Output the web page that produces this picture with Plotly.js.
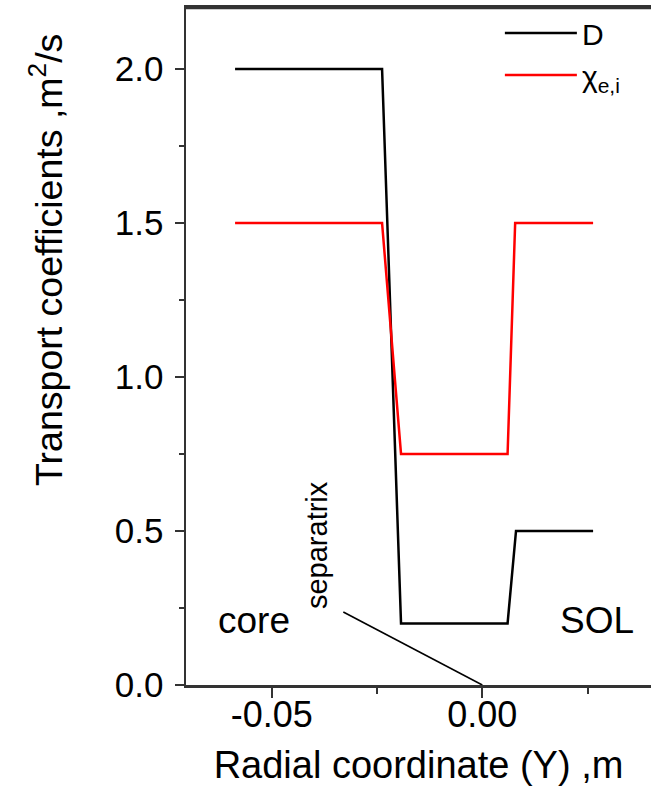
<!DOCTYPE html>
<html>
<head>
<meta charset="utf-8">
<script src="https://cdn.plot.ly/plotly-3.0.1.min.js"></script>
<style>html,body{margin:0;padding:0;background:#fff;}</style>
</head>
<body>
<div id="chart" style="width:651px;height:804px;"></div>
<script>
// Radial coordinate (m) and transport coefficients (m^2/s)
const xD = [-0.0587, -0.0238, -0.0193, 0.0060, 0.0080, 0.0263];
const yD = [2.0, 2.0, 0.2, 0.2, 0.5, 0.5];
const xChi = [-0.0587, -0.0238, -0.0193, 0.0060, 0.0078, 0.0263];
const yChi = [1.5, 1.5, 0.75, 0.75, 1.5, 1.5];

const xTickVals = [-0.05, 0.0];
const xTickText = ['-0.05', '0.00'];
const yTickVals = [0.0, 0.5, 1.0, 1.5, 2.0];
const yTickText = ['0.0', '0.5', '1.0', '1.5', '2.0'];

// separatrix position (m)
const sepX = 0.0;
const sepY = 0.0;

const FONT = 'Liberation Sans, Arial, sans-serif';

const traces = [
  {x: xD, y: yD, mode: 'lines', name: 'D', line: {color: '#000000', width: 2.5}},
  {x: xChi, y: yChi, mode: 'lines', name: '&#967;<sub>e,i</sub>', line: {color: '#ff0000', width: 2.5}}
];

const layout = {
  width: 651, height: 804,
  margin: {l: 186, r: 0, t: 7, b: 119},
  paper_bgcolor: '#ffffff', plot_bgcolor: '#ffffff',
  font: {family: FONT, color: '#000000'},
  showlegend: true,
  legend: {
    x: 0.675, y: 1.0, xanchor: 'left', yanchor: 'top',
    bgcolor: 'rgba(0,0,0,0)', borderwidth: 0,
    font: {family: FONT, size: 30, color: '#000'},
    itemwidth: 72, tracegroupgap: 0
  },
  xaxis: {
    range: [-0.07035, 0.04005],
    tickmode: 'array', tickvals: xTickVals, ticktext: xTickText,
    ticks: 'outside', ticklen: 10, tickwidth: 2, tickcolor: '#333',
    showline: true, linecolor: '#333', linewidth: 2.5, mirror: true,
    showgrid: false, zeroline: false,
    tickfont: {family: FONT, size: 36, color: '#000'},
    ticklabelstandoff: -14,
    minor: {tickmode: 'linear', tick0: -0.025, dtick: 0.05, ticks: 'outside', ticklen: 6, tickwidth: 2, tickcolor: '#333', showgrid: false},
    title: {text: 'Radial coordinate (Y) ,m', font: {family: FONT, size: 38, color: '#000'}, standoff: 18},
    automargin: false
  },
  yaxis: {
    range: [0, 2.201],
    tickmode: 'array', tickvals: yTickVals, ticktext: yTickText,
    ticks: 'outside', ticklen: 9, tickwidth: 2, tickcolor: '#333',
    showline: true, linecolor: '#333', linewidth: 2.5, mirror: false,
    showgrid: false, zeroline: false,
    tickfont: {family: FONT, size: 35, color: '#000'},
    ticklabelstandoff: 4,
    minor: {tickmode: 'linear', tick0: 0.25, dtick: 0.5, ticks: 'outside', ticklen: 5, tickwidth: 2, tickcolor: '#333', showgrid: false},
    automargin: false
  },
  shapes: [
    {type: 'line', xref: 'paper', yref: 'paper', ysizemode: 'pixel', yanchor: 1,
     x0: 0, x1: 1, y0: -1, y1: -1, layer: 'above',
     line: {color: '#333', width: 2.5}},
    {type: 'line', xref: 'x', yref: 'y', xsizemode: 'pixel', ysizemode: 'pixel',
     xanchor: sepX, yanchor: sepY, x0: -139, y0: 73, x1: 0, y1: 0,
     line: {color: '#000', width: 1.6}}
  ],
  annotations: [
    {xref: 'paper', yref: 'paper', x: -0.301, y: 0.627, xanchor: 'center', yanchor: 'middle',
     text: 'Transport coefficients ,m<sup>2</sup>/s', textangle: -90, showarrow: false,
     font: {family: FONT, size: 37.5, color: '#000'}},
    {xref: 'x', yref: 'y', x: -0.0542, y: 0.211, text: 'core', showarrow: false,
     font: {family: FONT, size: 37, color: '#000'}},
    {xref: 'x', yref: 'y', x: 0.0272, y: 0.211, text: 'SOL', showarrow: false,
     font: {family: FONT, size: 37, color: '#000'}},
    {xref: 'x', yref: 'y', x: -0.0392, y: 0.455, text: 'separatrix', textangle: -90, showarrow: false,
     font: {family: FONT, size: 29, color: '#000'}}
  ]
};

Plotly.newPlot('chart', traces, layout, {displayModeBar: false, staticPlot: true});
</script>
</body>
</html>
